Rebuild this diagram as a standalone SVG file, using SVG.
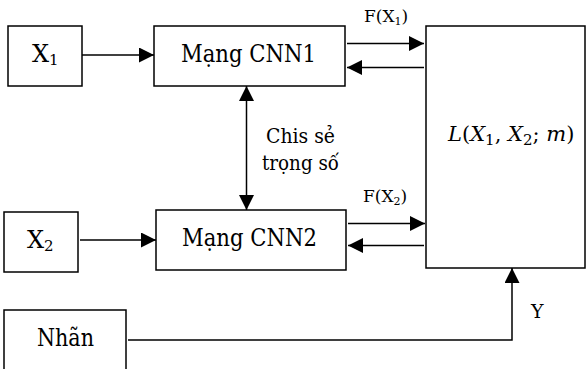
<svg xmlns="http://www.w3.org/2000/svg" width="586" height="369" viewBox="0 0 586 369">
<defs>
<style>
.box{fill:#fff;stroke:#000;stroke-width:1.5}
.ln{fill:none;stroke:#000;stroke-width:1.5}
text{fill:#000;font-family:"DejaVu Serif","Liberation Serif",serif}
.m{font-style:italic}
.up{font-style:normal}
</style>
<marker id="ah" viewBox="0 0 15 15" refX="15" refY="7.5" markerWidth="15" markerHeight="15" markerUnits="userSpaceOnUse" orient="auto-start-reverse">
<path d="M0,0 L15,7.5 L0,15 z" fill="#000"/>
</marker>
</defs>
<rect width="586" height="369" fill="#fff"/>
<g id="connectors">
<line class="ln" x1="82" y1="55" x2="154" y2="55" marker-end="url(#ah)"/>
<line class="ln" x1="347" y1="43.5" x2="424" y2="43.5" marker-end="url(#ah)"/>
<line class="ln" x1="424" y1="67.5" x2="347" y2="67.5" marker-end="url(#ah)"/>
<line class="ln" x1="246.5" y1="86" x2="246.5" y2="210" marker-start="url(#ah)" marker-end="url(#ah)"/>
<line class="ln" x1="80" y1="240" x2="156" y2="240" marker-end="url(#ah)"/>
<line class="ln" x1="348" y1="223.5" x2="425" y2="223.5" marker-end="url(#ah)"/>
<line class="ln" x1="424" y1="245.5" x2="348" y2="245.5" marker-end="url(#ah)"/>
<polyline class="ln" points="128,340 512,340 512,268" marker-end="url(#ah)"/>
<text x="364" y="22" font-size="17">F(X<tspan font-size="11" dy="3">1</tspan><tspan dy="-3">)</tspan></text>
<text x="363" y="202" font-size="17">F(X<tspan font-size="11" dy="3">2</tspan><tspan dy="-3">)</tspan></text>
<text x="266" y="143" font-size="20" textLength="69" lengthAdjust="spacingAndGlyphs">Chis sẻ</text>
<text x="262" y="170" font-size="20" textLength="77" lengthAdjust="spacingAndGlyphs">trọng số</text>
<text x="531" y="318" font-size="19">Y</text>
</g>
<g id="x1">
<rect class="box" x="8" y="26" width="74" height="60"/>
<text x="32" y="62" font-size="24">X<tspan font-size="15" dy="3">1</tspan></text>
</g>
<g id="cnn1">
<rect class="box" x="154" y="26" width="191" height="60"/>
<text x="181" y="62" font-size="24" textLength="135" lengthAdjust="spacingAndGlyphs">Mạng CNN1</text>
</g>
<g id="x2">
<rect class="box" x="4" y="212" width="74" height="60"/>
<text x="27" y="248" font-size="24">X<tspan font-size="15" dy="3">2</tspan></text>
</g>
<g id="cnn2">
<rect class="box" x="156" y="210" width="190" height="60"/>
<text x="182" y="246" font-size="24" textLength="135" lengthAdjust="spacingAndGlyphs">Mạng CNN2</text>
</g>
<g id="loss">
<rect class="box" x="426" y="26" width="159" height="242"/>
<text class="m" x="448" y="141" font-size="21">L<tspan class="up">(</tspan>X<tspan class="up" font-size="15" dy="4">1</tspan><tspan class="up" dy="-4">, </tspan>X<tspan class="up" font-size="15" dy="4">2</tspan><tspan class="up" dy="-4">; </tspan>m<tspan class="up">)</tspan></text>
</g>
<g id="nhan">
<rect class="box" x="4" y="310" width="122" height="70"/>
<text x="37" y="346" font-size="24" textLength="57" lengthAdjust="spacingAndGlyphs">Nhãn</text>
</g>
</svg>
